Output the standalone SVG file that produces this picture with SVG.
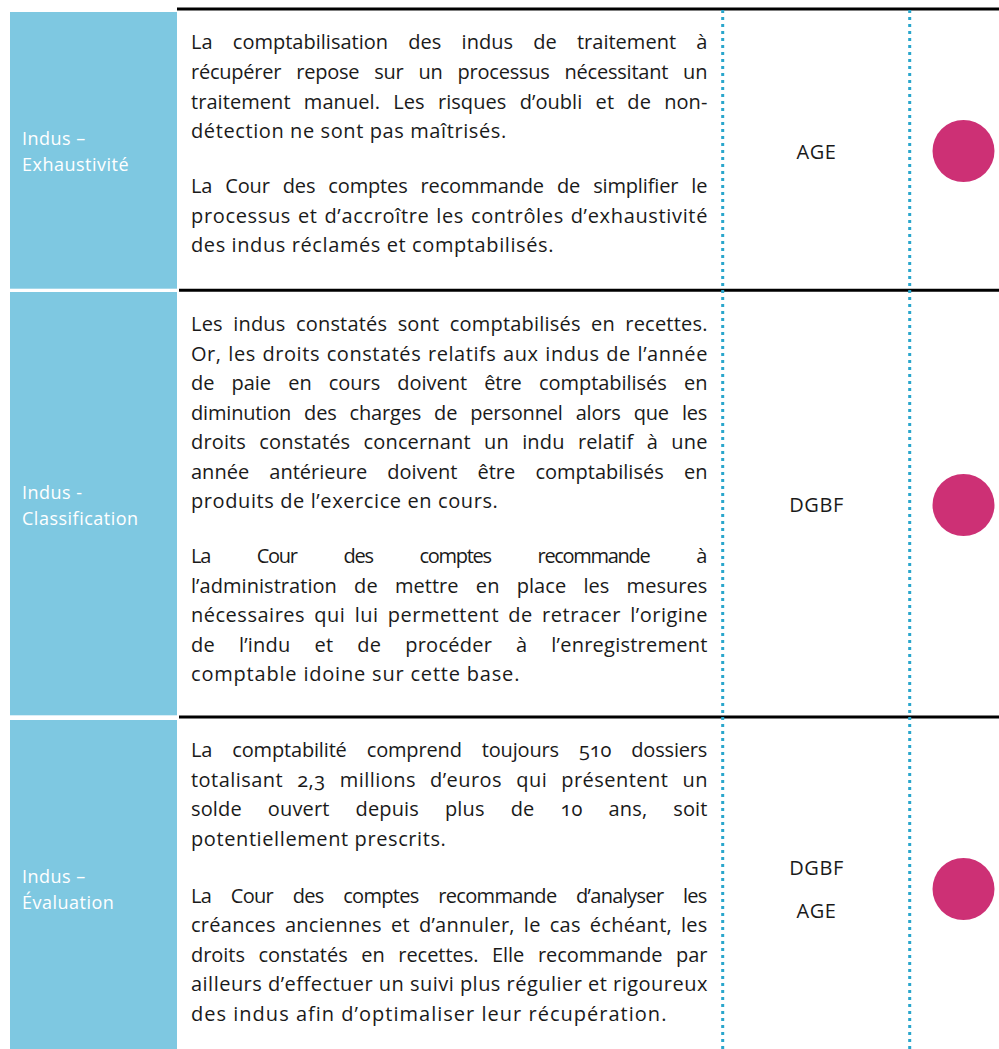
<svg xmlns="http://www.w3.org/2000/svg" width="999" height="1049" viewBox="0 0 999 1049">
<style>
.cell{fill:#7ec8e1}
.lbl{font-family:"Open Sans","Noto Sans","Liberation Sans",sans-serif;font-size:18px;letter-spacing:0.5px;fill:#ffffff}
.b{font-family:"Open Sans","Noto Sans","Liberation Sans",sans-serif;font-size:20px;letter-spacing:0.6px;fill:#1a1a1a;font-variant-numeric:oldstyle-nums}
.m{font-family:"Open Sans","Noto Sans","Liberation Sans",sans-serif;font-size:20px;letter-spacing:0.6px;fill:#1a1a1a;text-anchor:middle}
.rule{stroke:#000;stroke-width:3}
.dot{stroke:#2aa6cc;stroke-width:3;stroke-dasharray:3 4}
.c{fill:#cd3075}
</style>

<g id="connectors">
<line class="rule" x1="177" y1="9" x2="999" y2="9"/>
<line class="rule" x1="179" y1="290.3" x2="999" y2="290.3"/>
<line class="rule" x1="179" y1="717" x2="999" y2="717"/>
<line class="dot" x1="722.7" y1="10" x2="722.7" y2="1049"/>
<line class="dot" x1="909.7" y1="10" x2="909.7" y2="1049"/>
</g>

<g id="row1">
<rect class="cell" x="10" y="12" width="167" height="276.7"/>
<text class="lbl" x="22" y="145">Indus –</text>
<text class="lbl" x="22" y="170.7">Exhaustivité</text>
<text class="b" x="191" y="49.3" word-spacing="15" textLength="517" lengthAdjust="spacing">La comptabilisation des indus de traitement à</text>
<text class="b" x="191" y="79" word-spacing="10" textLength="517" lengthAdjust="spacing">récupérer repose sur un processus nécessitant un</text>
<text class="b" x="191" y="108.7" word-spacing="8" textLength="517" lengthAdjust="spacing">traitement manuel. Les risques d’oubli et de non-</text>
<text class="b" x="191" y="138.3">détection ne sont pas maîtrisés.</text>
<text class="b" x="191" y="193.3" word-spacing="8" textLength="517" lengthAdjust="spacing">La Cour des comptes recommande de simplifier le</text>
<text class="b" x="191" y="222.5" word-spacing="1" textLength="517" lengthAdjust="spacing">processus et d’accroître les contrôles d’exhaustivité</text>
<text class="b" x="191" y="251.7">des indus réclamés et comptabilisés.</text>
<text class="m" x="816.5" y="159">AGE</text>
<circle class="c" cx="963.5" cy="151" r="31"/>
</g>

<g id="row2">
<rect class="cell" x="10" y="292" width="167" height="423.3"/>
<text class="lbl" x="22" y="499">Indus -</text>
<text class="lbl" x="22" y="525">Classification</text>
<text class="b" x="191" y="331" word-spacing="5" textLength="517" lengthAdjust="spacing">Les indus constatés sont comptabilisés en recettes.</text>
<text class="b" x="191" y="360.5" word-spacing="1" textLength="517" lengthAdjust="spacing">Or, les droits constatés relatifs aux indus de l’année</text>
<text class="b" x="191" y="390" word-spacing="12" textLength="517" lengthAdjust="spacing">de paie en cours doivent être comptabilisés en</text>
<text class="b" x="191" y="419.5" word-spacing="8" textLength="517" lengthAdjust="spacing">diminution des charges de personnel alors que les</text>
<text class="b" x="191" y="449" word-spacing="8" textLength="517" lengthAdjust="spacing">droits constatés concernant un indu relatif à une</text>
<text class="b" x="191" y="478.5" word-spacing="15" textLength="517" lengthAdjust="spacing">année antérieure doivent être comptabilisés en</text>
<text class="b" x="191" y="508">produits de l’exercice en cours.</text>
<text class="b" x="191" y="563" word-spacing="43" textLength="517" lengthAdjust="spacing">La Cour des comptes recommande à</text>
<text class="b" x="191" y="592.5" word-spacing="12" textLength="517" lengthAdjust="spacing">l’administration de mettre en place les mesures</text>
<text class="b" x="191" y="622" word-spacing="3.5" textLength="517" lengthAdjust="spacing">nécessaires qui lui permettent de retracer l’origine</text>
<text class="b" x="191" y="651.5" word-spacing="18.5" textLength="517" lengthAdjust="spacing">de l’indu et de procéder à l’enregistrement</text>
<text class="b" x="191" y="681" textLength="329" lengthAdjust="spacing">comptable idoine sur cette base.</text>
<text class="m" x="816.5" y="512">DGBF</text>
<circle class="c" cx="963.5" cy="505" r="31"/>
</g>

<g id="row3">
<rect class="cell" x="10" y="720" width="167" height="329"/>
<text class="lbl" x="22" y="883">Indus –</text>
<text class="lbl" x="22" y="909">Évaluation</text>
<text class="b" x="191" y="757" word-spacing="15" textLength="517" lengthAdjust="spacing">La comptabilité comprend toujours 510 dossiers</text>
<text class="b" x="191" y="786.5" word-spacing="8.5" textLength="517" lengthAdjust="spacing">totalisant 2,3 millions d’euros qui présentent un</text>
<text class="b" x="191" y="816" word-spacing="20.7" textLength="517" lengthAdjust="spacing">solde ouvert depuis plus de 10 ans, soit</text>
<text class="b" x="191" y="845.5">potentiellement prescrits.</text>
<text class="b" x="191" y="902.5" word-spacing="15" textLength="517" lengthAdjust="spacing">La Cour des comptes recommande d’analyser les</text>
<text class="b" x="191" y="932" word-spacing="3.6" textLength="517" lengthAdjust="spacing">créances anciennes et d’annuler, le cas échéant, les</text>
<text class="b" x="191" y="961.5" word-spacing="8.5" textLength="517" lengthAdjust="spacing">droits constatés en recettes. Elle recommande par</text>
<text class="b" x="191" y="991" word-spacing="0" textLength="517" lengthAdjust="spacing">ailleurs d’effectuer un suivi plus régulier et rigoureux</text>
<text class="b" x="191" y="1020.5" textLength="476" lengthAdjust="spacing">des indus afin d’optimaliser leur récupération.</text>
<text class="m" x="816.5" y="875">DGBF</text>
<text class="m" x="816.5" y="917.7">AGE</text>
<circle class="c" cx="963.5" cy="889" r="31"/>
</g>
</svg>
